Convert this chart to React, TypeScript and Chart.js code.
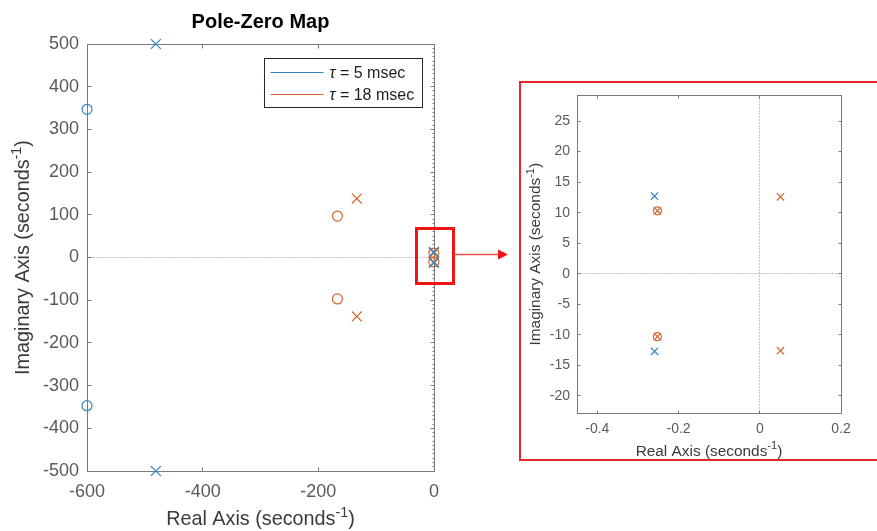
import React, { useEffect, useRef } from "react";
import { Chart, registerables } from "chart.js";

Chart.register(...registerables);

const FONT = "'Liberation Sans', Arial, Helvetica, sans-serif";
const BLUE = "#2f87c1";
const ORANGE = "#d6652f";
const TICK_COLOR = "#5a5a5a";
const LABEL_COLOR = "#3a3a3a";
const AXIS_COLOR = "#7a7a7a";
const ZERO_COLOR = "#8c8c8c";

// Poles (x) and zeros (o) of the two loop transfer functions
const tau5PoleRe = [-481, -481, -0.259, -0.259];
const tau5PoleIm = [500, -500, 12.7, -12.7];
const tau5ZeroRe = [-600, -600];
const tau5ZeroIm = [347, -347];

const tau18PoleRe = [-133.5, -133.5, -0.252, -0.252, 0.051, 0.051];
const tau18PoleIm = [138, -138, 10.3, -10.3, 12.6, -12.6];
const tau18ZeroRe = [-167, -167, -0.252, -0.252];
const tau18ZeroIm = [97, -97, 10.3, -10.3];

const seriesLabels = ["5 msec", "18 msec"];
const seriesColors = [BLUE, ORANGE];

// Axis ticks
const fullXTicks = [-600, -400, -200, 0];
const fullYTicks = [-500, -400, -300, -200, -100, 0, 100, 200, 300, 400, 500];
const zoomXTicks = [-0.4, -0.2, 0, 0.2];
const zoomYTicks = [-20, -15, -10, -5, 0, 5, 10, 15, 20, 25];

const pts = (re: number[], im: number[]) => re.map((x, i) => ({ x, y: im[i] }));

function makeDatasets(crossR: number, circR: number, clip: boolean) {
  const base = (label: string, data: any, color: string, style: string, r: number) => ({
    label,
    data,
    showLine: false,
    pointStyle: style,
    pointRadius: r,
    pointHoverRadius: r,
    pointBorderWidth: 1.2,
    pointBorderColor: color,
    pointBackgroundColor: "rgba(0,0,0,0)",
    borderColor: color,
    backgroundColor: "rgba(0,0,0,0)",
    clip: clip ? undefined : false,
  });
  return [
    base("poles 5", pts(tau5PoleRe, tau5PoleIm), BLUE, "crossRot", crossR),
    base("zeros 5", pts(tau5ZeroRe, tau5ZeroIm), BLUE, "circle", circR),
    base("poles 18", pts(tau18PoleRe, tau18PoleIm), ORANGE, "crossRot", crossR),
    base("zeros 18", pts(tau18ZeroRe, tau18ZeroIm), ORANGE, "circle", circR),
  ];
}

function axisScale(
  min: number,
  max: number,
  tickValues: number[],
  fontSize: number,
  pad: number,
  fitSize: number,
  horizontal: boolean
) {
  return {
    type: "linear",
    min,
    max,
    grid: { display: false, drawTicks: false },
    border: { display: false },
    ticks: {
      font: { family: FONT, size: fontSize },
      color: TICK_COLOR,
      padding: pad,
      autoSkip: false,
      maxRotation: 0,
      callback: (v: number) => String(v),
    },
    afterBuildTicks: (s: any) => {
      s.ticks = tickValues.map((value) => ({ value }));
    },
    afterFit: (s: any) => {
      if (horizontal) s.height = fitSize;
      else s.width = fitSize;
    },
  };
}

// "<head> (seconds^-1)" with a raised exponent
function unitLabel(
  ctx: CanvasRenderingContext2D,
  head: string,
  cx: number,
  cy: number,
  size: number,
  vertical: boolean
) {
  ctx.save();
  ctx.translate(cx, cy);
  if (vertical) ctx.rotate(-Math.PI / 2);
  const main = `${size}px ${FONT}`;
  const small = `${(size * 0.72).toFixed(1)}px ${FONT}`;
  const a = head + " (seconds";
  const b = "-1";
  const c = ")";
  ctx.font = main;
  const wa = ctx.measureText(a).width;
  const wc = ctx.measureText(c).width;
  ctx.font = small;
  const wb = ctx.measureText(b).width;
  let x = -(wa + wb + wc) / 2;
  ctx.fillStyle = LABEL_COLOR;
  ctx.textAlign = "left";
  ctx.textBaseline = "alphabetic";
  ctx.font = main;
  ctx.fillText(a, x, 0);
  x += wa;
  ctx.font = small;
  ctx.fillText(b, x, -size * 0.42);
  x += wb;
  ctx.font = main;
  ctx.fillText(c, x, 0);
  ctx.restore();
}

type FrameCfg = { tick: number; minorStep?: number; minorLen?: number };

function framePlugin(id: string, cfg: FrameCfg, decorate: (chart: any) => void) {
  return {
    id,
    beforeDatasetsDraw(chart: any) {
      const { ctx, chartArea: a, scales } = chart;
      const xs = scales.x;
      const ys = scales.y;
      const L = Math.floor(a.left) + 0.5;
      const R = Math.floor(a.right) + 0.5;
      const T = Math.floor(a.top) + 0.5;
      const B = Math.floor(a.bottom) + 0.5;
      ctx.save();
      ctx.lineWidth = 1;

      // dotted zero lines
      ctx.strokeStyle = ZERO_COLOR;
      ctx.setLineDash([1, 2]);
      const zx = Math.floor(xs.getPixelForValue(0)) + 0.5;
      const zy = Math.floor(ys.getPixelForValue(0)) + 0.5;
      ctx.beginPath();
      ctx.moveTo(L, zy);
      ctx.lineTo(R, zy);
      ctx.moveTo(zx, T);
      ctx.lineTo(zx, B);
      ctx.stroke();
      ctx.setLineDash([]);

      // box with inward ticks
      ctx.strokeStyle = AXIS_COLOR;
      const tl = cfg.tick;
      ctx.beginPath();
      xs.ticks.forEach((t: any) => {
        const p = Math.floor(xs.getPixelForValue(t.value)) + 0.5;
        ctx.moveTo(p, B);
        ctx.lineTo(p, B - tl);
        ctx.moveTo(p, T);
        ctx.lineTo(p, T + tl);
      });
      ys.ticks.forEach((t: any) => {
        const p = Math.floor(ys.getPixelForValue(t.value)) + 0.5;
        ctx.moveTo(L, p);
        ctx.lineTo(L + tl, p);
        ctx.moveTo(R, p);
        ctx.lineTo(R - tl, p);
      });
      if (cfg.minorStep) {
        for (let v = ys.min; v <= ys.max + 1e-9; v += cfg.minorStep) {
          const p = Math.floor(ys.getPixelForValue(v)) + 0.5;
          ctx.moveTo(R, p);
          ctx.lineTo(R - (cfg.minorLen || 2), p);
        }
      }
      ctx.stroke();
      ctx.strokeRect(L, T, R - L, B - T);
      ctx.restore();
    },
    afterDraw(chart: any) {
      decorate(chart);
    },
  };
}

function drawLegend(ctx: CanvasRenderingContext2D, a: any) {
  const right = a.right - 12.5;
  const w = 158;
  const left = Math.round(right - w) + 0.5;
  const top = Math.round(a.top + 14) + 0.5;
  const h = 49;
  ctx.save();
  ctx.fillStyle = "#ffffff";
  ctx.fillRect(left, top, w, h);
  ctx.strokeStyle = "#262626";
  ctx.lineWidth = 1;
  ctx.strokeRect(left, top, w, h);
  seriesLabels.forEach((lab, i) => {
    const y = top + 14 + i * 22;
    ctx.strokeStyle = seriesColors[i];
    ctx.lineWidth = 1.2;
    ctx.beginPath();
    ctx.moveTo(left + 6, y);
    ctx.lineTo(left + 59, y);
    ctx.stroke();
    ctx.fillStyle = "#1e1e1e";
    ctx.textBaseline = "alphabetic";
    ctx.textAlign = "left";
    ctx.font = `italic 16px ${FONT}`;
    const tx = left + 65;
    ctx.fillText("\u03c4", tx, y + 5.5);
    const tw = ctx.measureText("\u03c4").width;
    ctx.font = `16px ${FONT}`;
    ctx.fillText(" = " + lab, tx + tw, y + 5.5);
  });
  ctx.restore();
}

export default function App() {
  const leftRef = useRef<HTMLCanvasElement>(null);
  const rightRef = useRef<HTMLCanvasElement>(null);

  useEffect(() => {
    const charts: Chart[] = [];

    const decorateFull = (chart: any) => {
      const { ctx, chartArea: a, scales } = chart;
      const cx = (a.left + a.right) / 2;
      ctx.save();
      ctx.fillStyle = "#000";
      ctx.font = `bold 20px ${FONT}`;
      ctx.textAlign = "center";
      ctx.textBaseline = "alphabetic";
      ctx.fillText("Pole-Zero Map", cx, 28);
      ctx.restore();

      unitLabel(ctx, "Real Axis", cx, 525, 19.8, false);
      unitLabel(ctx, "Imaginary Axis", 29, (a.top + a.bottom) / 2, 19.8, true);
      drawLegend(ctx, a);

      // highlight around the origin and arrow to the zoomed view
      const ox = scales.x.getPixelForValue(0);
      const oy = scales.y.getPixelForValue(0) - 2.5;
      ctx.save();
      ctx.strokeStyle = "#f01414";
      ctx.lineWidth = 3;
      ctx.strokeRect(Math.round(ox - 18.5) + 0.5, Math.round(oy - 27.5) + 0.5, 37, 55);
      const ay = Math.round(oy - 1) + 0.5;
      ctx.strokeStyle = "#e8504a";
      ctx.lineWidth = 1.3;
      ctx.beginPath();
      ctx.moveTo(ox + 20, ay);
      ctx.lineTo(ox + 65, ay);
      ctx.stroke();
      ctx.fillStyle = "#f01414";
      ctx.beginPath();
      ctx.moveTo(ox + 64, ay - 5);
      ctx.lineTo(ox + 74, ay);
      ctx.lineTo(ox + 64, ay + 5);
      ctx.closePath();
      ctx.fill();
      ctx.restore();
    };

    const decorateZoom = (chart: any) => {
      const { ctx, chartArea: a } = chart;
      unitLabel(ctx, "Real Axis", (a.left + a.right) / 2, 375.5, 15.4, false);
      unitLabel(ctx, "Imaginary Axis", 21, (a.top + a.bottom) / 2, 15.4, true);
    };

    if (leftRef.current) {
      charts.push(
        new Chart(leftRef.current, {
          type: "scatter",
          data: { datasets: makeDatasets(7, 5, false) as any },
          options: {
            responsive: false,
            animation: false,
            events: [],
            layout: { padding: { left: 0, right: 85, top: 44, bottom: 0 } },
            plugins: { legend: { display: false }, tooltip: { enabled: false } },
            scales: {
              x: axisScale(-600, 0, fullXTicks, 18, 10, 60, true) as any,
              y: axisScale(-500, 500, fullYTicks, 18, 8, 87, false) as any,
            },
          },
          plugins: [framePlugin("fullFrame", { tick: 4, minorStep: 10, minorLen: 2 }, decorateFull)],
        })
      );
    }

    if (rightRef.current) {
      charts.push(
        new Chart(rightRef.current, {
          type: "scatter",
          data: { datasets: makeDatasets(5.2, 4, true) as any },
          options: {
            responsive: false,
            animation: false,
            events: [],
            layout: { padding: { left: 0, right: 36, top: 9, bottom: 0 } },
            plugins: { legend: { display: false }, tooltip: { enabled: false } },
            scales: {
              x: axisScale(-0.45, 0.2, zoomXTicks, 14, 8, 49, true) as any,
              y: axisScale(-22.8, 29.2, zoomYTicks, 14, 7, 58, false) as any,
            },
          },
          plugins: [framePlugin("zoomFrame", { tick: 3 }, decorateZoom)],
        })
      );
    }

    return () => charts.forEach((c) => c.destroy());
  }, []);

  return (
    <div
      style={{
        position: "absolute",
        left: 0,
        top: 0,
        width: 877,
        height: 531,
        overflow: "hidden",
        background: "#ffffff",
      }}
    >
      <canvas
        ref={leftRef}
        width={519}
        height={531}
        style={{ position: "absolute", left: 0, top: 0, width: 519, height: 531 }}
      />
      <div
        style={{
          position: "absolute",
          left: 519,
          top: 81,
          width: 356,
          height: 376,
          border: "2px solid #e3292b",
          borderRight: "none",
        }}
      />
      <canvas
        ref={rightRef}
        width={358}
        height={382}
        style={{ position: "absolute", left: 519, top: 80, width: 358, height: 382 }}
      />
    </div>
  );
}
